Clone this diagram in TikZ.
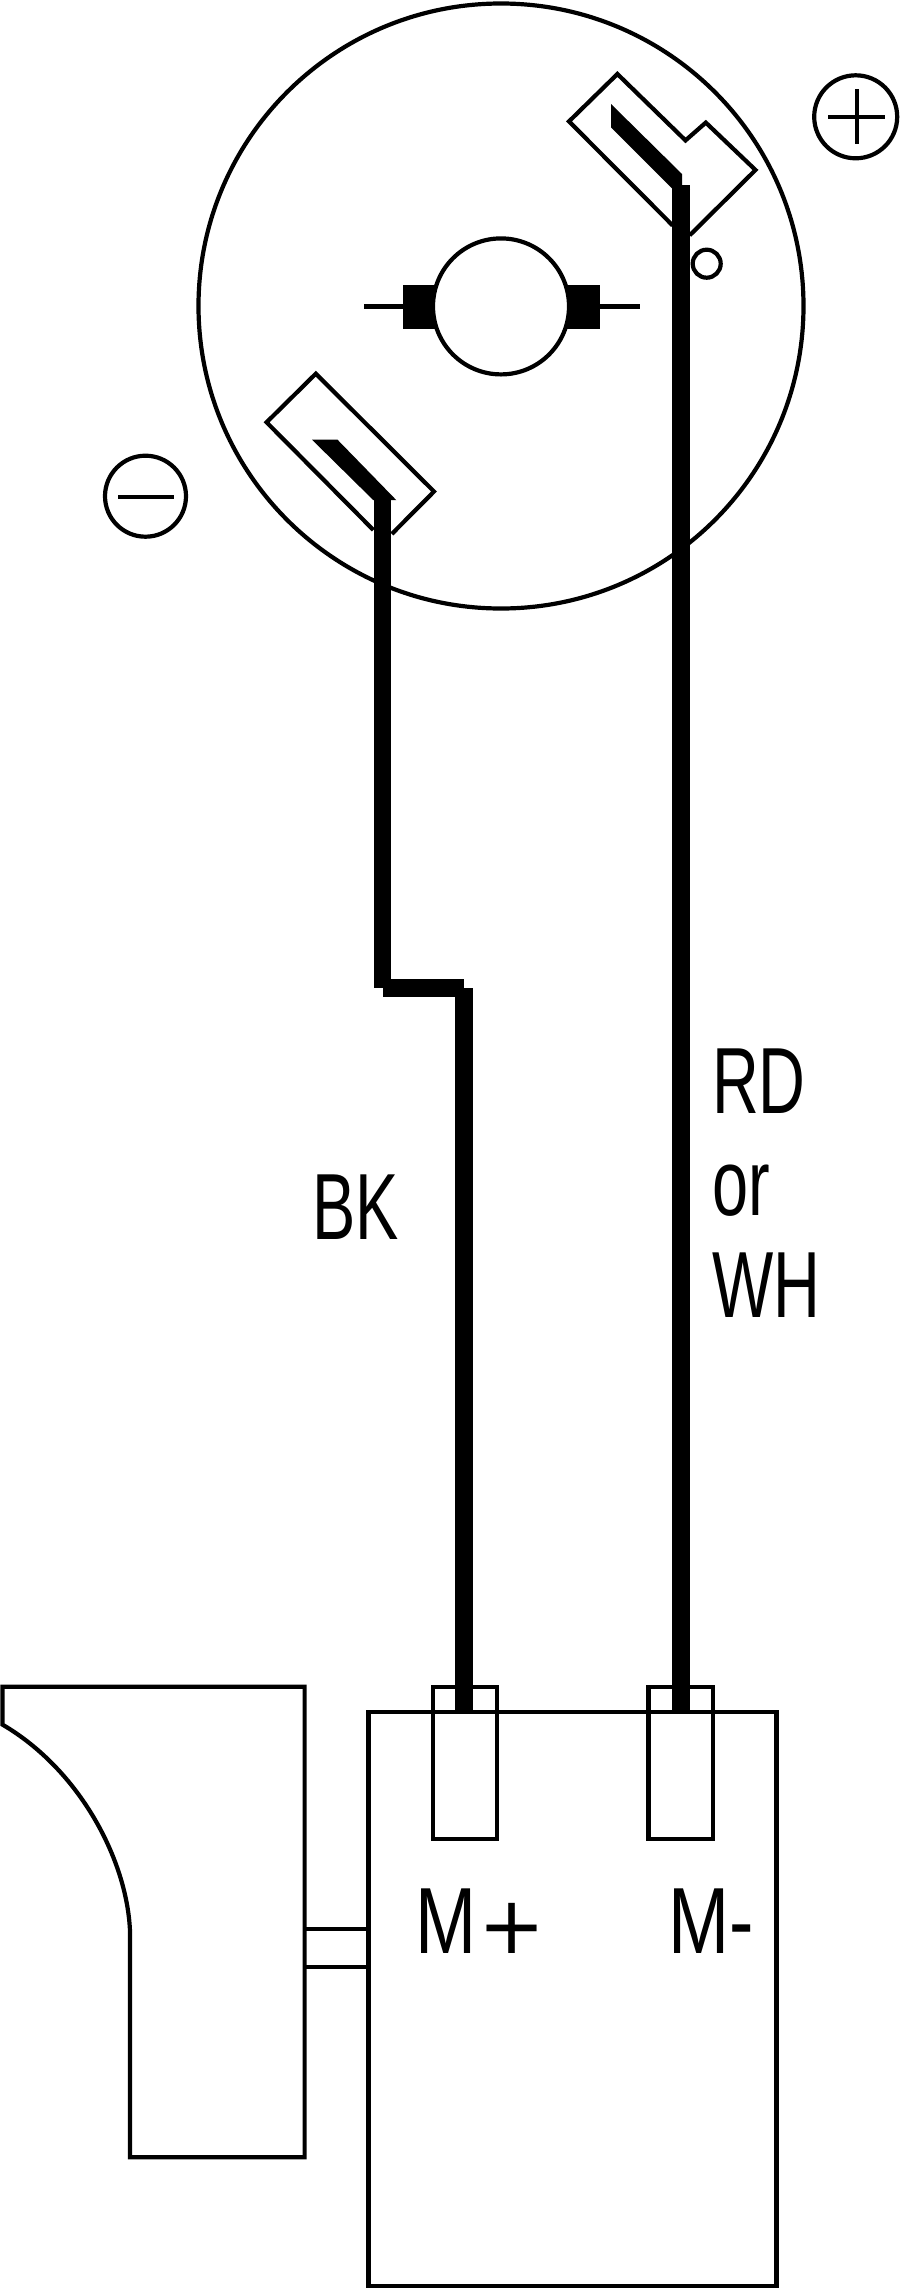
\documentclass[tikz,border=0pt]{standalone}
\usepackage{fontspec}
\setmainfont{Liberation Sans}
\newfontfamily\narrowf[FakeStretch=0.69]{Liberation Sans}
\newfontfamily\termf[FakeStretch=0.78]{Liberation Sans}
\newfontfamily\plusf{DejaVu Sans}
\tikzset{
  thin line/.style={draw=black,line width=4.2pt,line join=miter},
  wire/.style={draw=black,line width=17.5pt,line cap=butt},
  label/.style={inner sep=0pt,outer sep=0pt,anchor=base west,font=\narrowf\fontsize{94}{94}\selectfont},
  termlabel/.style={inner sep=0pt,outer sep=0pt,anchor=base west,font=\termf\fontsize{94}{94}\selectfont},
  ring/.style={circle,thin line,inner sep=0pt,outer sep=0pt,minimum size=#1},
  boxpart/.style={draw=black,line width=4.2pt,inner sep=0pt,outer sep=0pt},
}
\begin{document}
\begin{tikzpicture}[x=1pt,y=-1pt]
\useasboundingbox[fill=white] (0,0) rectangle (902,2289);
% motor end plate
\node[ring=605pt] (plate) at (501,306) {};
\fill[black] (403,284.7) rectangle (600,329.4);
\node[ring=136pt,fill=white] (rotor) at (501,306.4) {};
\coordinate (brushL) at (364,306.4);
\coordinate (brushLi) at (403,306.4);
\coordinate (brushR) at (639.5,306.4);
\coordinate (brushRi) at (600,306.4);
\draw[thin line] (brushL) -- (brushLi) (brushRi) -- (brushR);
\node[ring=28pt] (dot) at (706.7,263.7) {};
% polarity marks
\node[ring=83pt] (plus) at (855.7,116.8) {};
\draw[thin line] (828,117) -- (885,117) (857,89) -- (857,144.3);
\node[ring=81pt] (minus) at (145.5,496.2) {};
\draw[thin line] (118.3,496.7) -- (174,496.7);
% terminals
\draw[thin line] (672.6,225.4) -- (569,121.4) -- (617.4,74) -- (685.5,140.4) -- (705.8,122.6) -- (755.5,170) -- (689.7,235.3);
\draw[thin line] (373.4,530) -- (266.6,422.3) -- (315.8,373.7) -- (434,491.5) -- (391.8,534);
\fill[black] (611,104) -- (611,127.3) -- (672.6,189) -- (690,189) -- (682,185) -- (682,174) -- cycle;
\fill[black] (312,439.7) -- (337.5,439.7) -- (396.4,500.2) -- (373.4,500.2) -- cycle;
% switch
\draw[thin line] (130,1931) .. controls (127,1860) and (80,1770) .. (2.5,1724.6) -- (2.5,1686.7) -- (304.6,1686.7) -- (304.6,2157.3) -- (130,2157.3) -- cycle;
\node[boxpart,minimum width=408.1pt,minimum height=573.7pt] (box) at (572.45,1998.85) {};
\node[boxpart,minimum width=64.4pt,minimum height=152pt] (tp) at (464.8,1762.7) {};
\node[boxpart,minimum width=64.3pt,minimum height=152pt] (tm) at (680.65,1762.7) {};
\coordinate (linkAa) at (304.6,1929);
\coordinate (linkAb) at (368.4,1929);
\coordinate (linkBa) at (304.6,1966.6);
\coordinate (linkBb) at (368.4,1966.6);
\draw[thin line] (linkAa) -- (linkAb) (linkBa) -- (linkBb);
% wires
\coordinate (wR1) at (681,185);
\coordinate (wR2) at (681,1712);
\coordinate (wL1) at (382.7,500.2);
\coordinate (wL2) at (382.7,988);
\coordinate (wL3) at (464,988);
\coordinate (wL4) at (464,1712);
\draw[wire] (wR1) -- (wR2);
\draw[wire] (wL1) -- (wL2);
\draw[wire] (wL2) -- (wL3);
\draw[wire] (wL3) -- (wL4);
% labels
\node[label] (bk) at (312,1239) {BK};
\node[label] (rd) at (712,1113.3) {RD};
\node[label] (or) at (712,1215.7) {or};
\node[label] (wh) at (712,1317.3) {WH};
\node[termlabel] (mp) at (415.6,1953.6) {M\kern1.8pt{\plusf\fontsize{80}{80}\selectfont +}};
\node[termlabel] (mm) at (668,1953.6) {M-};
\end{tikzpicture}
\end{document}
